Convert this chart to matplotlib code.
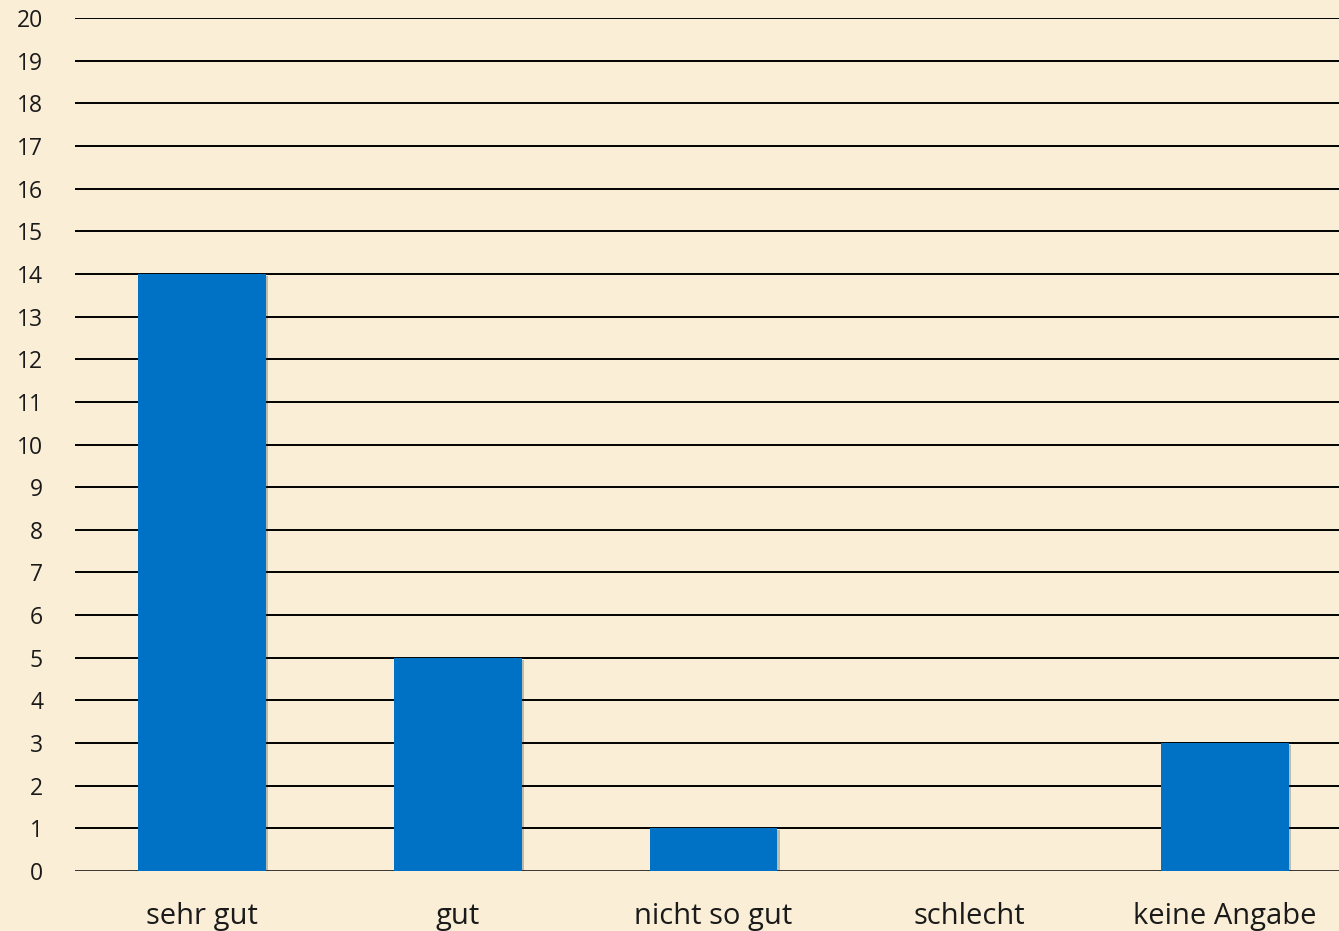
import matplotlib.pyplot as plt
import matplotlib.patheffects as pe
import numpy as np

# Survey answers and counts
categories = ["sehr gut", "gut", "nicht so gut", "schlecht", "keine Angabe"]
counts = [14, 5, 1, 0, 3]
y_ticks = list(range(0, 21))

bg = "#FAEFD6"
bar_color = "#0072C6"

plt.rcParams["font.family"] = ["Open Sans", "DejaVu Sans"]

fig = plt.figure(figsize=(13.39, 9.31), dpi=100, facecolor=bg)
ax = fig.add_axes([0.056, 0.0644, 0.944, 0.9163])
ax.set_facecolor(bg)

x = np.arange(len(categories))
bars = ax.bar(x, counts, width=0.5, color=bar_color, zorder=3)
for b in bars:
    b.set_path_effects([pe.SimplePatchShadow(offset=(1.5, -1.5), alpha=0.25), pe.Normal()])

# horizontal rules at every integer
for v in y_ticks:
    ax.axhline(v, color="black", linewidth=1.8 if v == 0 else 1.4, zorder=2)

ax.set_xlim(-0.497, 4.446)
ax.set_ylim(0, 20)
ax.set_yticks(y_ticks)
ax.set_yticklabels([str(v) for v in y_ticks])
ax.set_xticks(x)
ax.set_xticklabels(categories)

ax.tick_params(axis="y", length=0, pad=23, labelsize=16.5, colors="#1a1a1a")
ax.tick_params(axis="x", length=0, pad=22, labelsize=21, colors="#1a1a1a")

for s in ax.spines.values():
    s.set_visible(False)

plt.savefig("out.png", dpi=100, facecolor=bg)
